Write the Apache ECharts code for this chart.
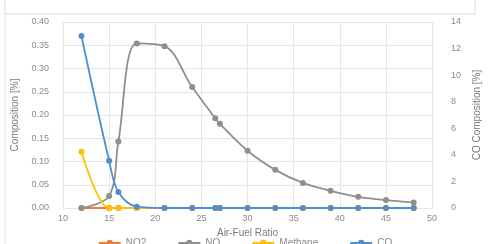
<!DOCTYPE html>
<html>
<head>
<meta charset="utf-8">
<script src="https://cdn.jsdelivr.net/npm/echarts@6/dist/echarts.min.js"></script>
<style>
html, body { margin: 0; padding: 0; background: #fff; }
#chart { width: 490px; height: 244px; }
</style>
</head>
<body>
<div id="chart"></div>
<script>
// air-fuel ratios where samples were taken
const afr = [12, 15, 16, 18, 21, 24, 26.5, 27, 30, 33, 36, 39, 42, 45, 48];
const no2 = [0, 0, 0, 0, 0, 0, 0, 0, 0, 0, 0, 0, 0, 0, 0];
const no = [0, 0.026, 0.143, 0.354, 0.348, 0.26, 0.193, 0.181, 0.123, 0.082, 0.054, 0.037, 0.024, 0.017, 0.012];
const methane = [0.121, 0, 0, 0, 0, 0, 0, 0, 0, 0, 0, 0, 0, 0, 0];
const co = [12.95, 3.55, 1.2, 0.1, 0, 0, 0, 0, 0, 0, 0, 0, 0, 0, 0];
const legendNames = ['NO2', 'NO', 'Methane', 'CO'];

const pairs = vals => afr.map((x, i) => [x, vals[i]]);

const chart = echarts.init(document.getElementById('chart'));

const tickLabel = { color: '#8a8a8a', fontSize: 9, fontFamily: 'Liberation Sans' };
const nameStyle = { color: '#7a7a7a', fontSize: 10, fontFamily: 'Liberation Sans' };

const mkSeries = (name, vals, color, yIdx) => ({
    name: name,
    type: 'line',
    yAxisIndex: yIdx,
    smooth: 0.35,
    symbol: 'circle',
    symbolSize: 6,
    lineStyle: { color: color, width: 1.8 },
    itemStyle: { color: color },
    data: pairs(vals)
});

chart.setOption({
    animation: false,
    backgroundColor: '#fff',
    graphic: [
        { type: 'rect', shape: { x: 5, y: -2, width: 470, height: 16 }, style: { fill: 'none', stroke: '#dcdcdc', lineWidth: 1 } },
        { type: 'line', shape: { x1: 5, y1: 14, x2: 5, y2: 244 }, style: { stroke: '#e4e4e4', lineWidth: 1 } }
    ],
    grid: { left: 63, right: 38, top: 22, bottom: 36 },
    legend: {
        data: legendNames,
        bottom: -9,
        left: 'center',
        itemGap: 31,
        itemWidth: 22,
        itemHeight: 8,
        textStyle: { color: '#8a8a8a', fontSize: 10, fontFamily: 'Liberation Sans' }
    },
    xAxis: {
        type: 'value',
        min: 10,
        max: 50,
        interval: 5,
        name: 'Air-Fuel Ratio',
        nameLocation: 'middle',
        nameGap: 13,
        nameTextStyle: nameStyle,
        axisLine: { show: false },
        axisTick: { show: false },
        axisLabel: Object.assign({ margin: 6 }, tickLabel),
        splitLine: { lineStyle: { color: '#e6e6e6' } }
    },
    yAxis: [
        {
            type: 'value',
            min: 0,
            max: 0.4,
            interval: 0.05,
            name: 'Composition [%]',
            nameLocation: 'middle',
            nameGap: 40,
            nameTextStyle: nameStyle,
            axisLine: { show: false },
            axisTick: { show: false },
            axisLabel: Object.assign({ formatter: v => v.toFixed(2), margin: 14 }, tickLabel),
            splitLine: { lineStyle: { color: '#e6e6e6' } }
        },
        {
            type: 'value',
            min: 0,
            max: 14,
            interval: 2,
            name: 'CO Composition [%]',
            nameLocation: 'middle',
            nameGap: 31,
            nameTextStyle: nameStyle,
            axisLine: { show: false },
            axisTick: { show: false },
            axisLabel: Object.assign({ margin: 19 }, tickLabel),
            splitLine: { show: false }
        }
    ],
    series: [
        mkSeries('NO2', no2, '#ED7D31', 0),
        mkSeries('NO', no, '#8f8f8f', 0),
        mkSeries('Methane', methane, '#FFC000', 0),
        mkSeries('CO', co, '#4F8FCF', 1)
    ]
});
</script>
</body>
</html>
